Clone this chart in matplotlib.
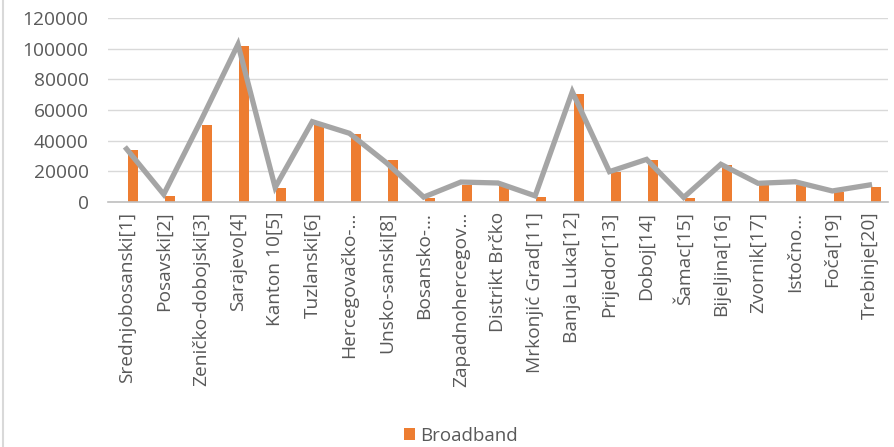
import numpy as np
import matplotlib.pyplot as plt
from matplotlib.lines import Line2D

categories = [
    "Srednjobosanski[1]", "Posavski[2]", "Zeničko-dobojski[3]", "Sarajevo[4]",
    "Kanton 10[5]", "Tuzlanski[6]", "Hercegovačko-…", "Unsko-sanski[8]",
    "Bosansko-…", "Zapadnohercegov…", "Distrikt Brčko", "Mrkonjić Grad[11]",
    "Banja Luka[12]", "Prijedor[13]", "Doboj[14]", "Šamac[15]",
    "Bijeljina[16]", "Zvornik[17]", "Istočno…", "Foča[19]", "Trebinje[20]",
]
broadband = [33900, 3900, 50200, 101500, 8900, 50200, 44100, 27400, 2600,
             11100, 11000, 3300, 70400, 19800, 27400, 2600, 24100, 12400,
             11100, 6300, 9800]
total = [34600, 5000, 53000, 102800, 9500, 52400, 44800, 25500, 3200,
         13000, 12400, 4000, 71900, 19800, 27800, 3000, 24600, 12200,
         13200, 7200, 11100]
yticks = [0, 20000, 40000, 60000, 80000, 100000, 120000]

plt.rcParams['font.family'] = ['Open Sans', 'DejaVu Sans']
txt = '#595959'

fig = plt.figure(figsize=(8.94, 4.47), dpi=100)
ax = fig.add_axes([108 / 894, 1 - 202 / 447, 780 / 894, 184 / 447])

x = np.arange(len(categories))
ax.bar(x + 0.17, broadband, width=0.27, color='#ED7D31', label='Broadband', zorder=2)
ax.plot(x, total, color='#A5A5A5', linewidth=3.8, solid_joinstyle='miter', zorder=3)

ax.set_xlim(-0.5, len(categories) - 0.5)
ax.set_ylim(0, 120000)
ax.set_yticks(yticks)
ax.set_yticklabels([str(v) for v in yticks])
ax.set_xticks(x)
ax.set_xticklabels(categories, rotation=90, va='top', ha='center')
ax.tick_params(axis='x', length=0, pad=7, labelsize=13.8, labelcolor=txt)
ax.tick_params(axis='y', length=0, pad=14, labelsize=13.8, labelcolor=txt)

ax.grid(axis='y', color='#D9D9D9', linewidth=1, zorder=0)
ax.set_axisbelow(True)
for s in ['top', 'right', 'left']:
    ax.spines[s].set_visible(False)
ax.spines['bottom'].set_color('#BFBFBF')
ax.spines['bottom'].set_linewidth(1.2)

handles, labels = ax.get_legend_handles_labels()
fig.legend(handles, labels, loc='center', bbox_to_anchor=(461 / 894, 1 - 436 / 447),
           frameon=False, fontsize=13.5, labelcolor=txt, handlelength=0.6,
           handleheight=0.6, handletextpad=0.3, borderpad=0)

fig.add_artist(Line2D([3 / 894, 3 / 894], [0, 1], color='#D9D9D9', linewidth=1.5))

fig.savefig('out.png', dpi=100)
